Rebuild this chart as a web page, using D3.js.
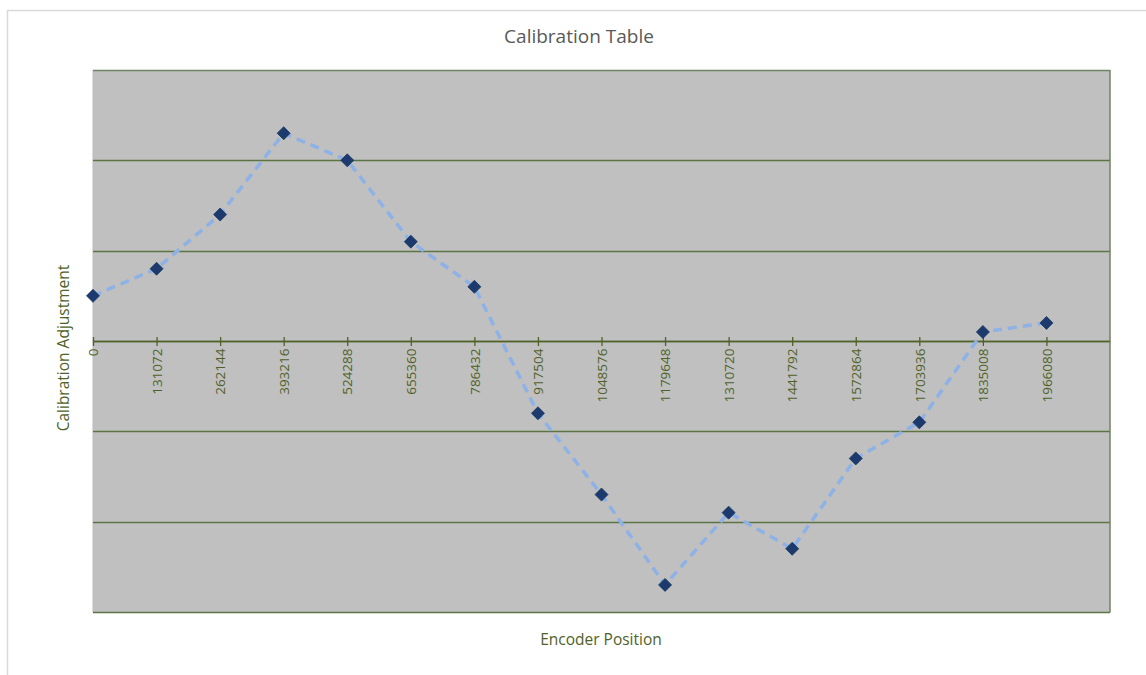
<!DOCTYPE html>
<html>
<head>
<meta charset="utf-8">
<script src="https://cdn.jsdelivr.net/npm/d3@7"></script>
<style>
  html, body { margin: 0; padding: 0; background: #ffffff; }
  svg { display: block; }
</style>
</head>
<body>
<svg id="chart" width="1146" height="675"></svg>
<script>
// Encoder positions (counts) and the calibration adjustment measured at each
const encoderPositions = [0, 131072, 262144, 393216, 524288, 655360, 786432, 917504,
  1048576, 1179648, 1310720, 1441792, 1572864, 1703936, 1835008, 1966080];
const adjustments = [0.5, 0.8, 1.4, 2.3, 2.0, 1.1, 0.6, -0.8,
  -1.7, -2.7, -1.9, -2.3, -1.3, -0.9, 0.1, 0.2];
const tickLabels = encoderPositions.map(String);
const gridValues = [-3, -2, -1, 0, 1, 2, 3];

const chartTitle = "Calibration Table";
const xTitle = "Encoder Position";
const yTitle = "Calibration Adjustment";

const svg = d3.select("#chart");
const plot = { left: 93, right: 1110, top: 70, bottom: 612 };
const olive = "#4f6228";
const gridColor = "#5b7444";
const fontFamily = "'Open Sans', 'Liberation Sans', sans-serif";

// Outer chart frame
svg.append("rect")
  .attr("x", 7.5).attr("y", 10.5)
  .attr("width", 1170).attr("height", 700)
  .attr("fill", "#ffffff")
  .attr("stroke", "#d9d9d9")
  .attr("stroke-width", 1.5);

const x = d3.scaleLinear().domain([0, 2097152]).range([plot.left, plot.right]);
const y = d3.scaleLinear().domain([-3, 3]).range([plot.bottom, plot.top]);

// Plot area background
svg.append("rect")
  .attr("x", plot.left).attr("y", plot.top)
  .attr("width", plot.right - plot.left).attr("height", plot.bottom - plot.top)
  .attr("fill", "#c0c0c0");

// Left edge of plot area
svg.append("line")
  .attr("x1", plot.left - 0.5).attr("x2", plot.left - 0.5)
  .attr("y1", plot.top).attr("y2", plot.bottom)
  .attr("stroke", "#dcdcdc").attr("stroke-width", 1);

// Horizontal gridlines
svg.append("g")
  .selectAll("line")
  .data(gridValues)
  .join("line")
  .attr("x1", plot.left).attr("x2", plot.right)
  .attr("y1", d => Math.round(y(d)) + 0.5)
  .attr("y2", d => Math.round(y(d)) + 0.5)
  .attr("stroke", d => d === 3 ? "#6e8462" : gridColor)
  .attr("stroke-width", 1.3);

// Right edge of plot area
svg.append("line")
  .attr("x1", plot.right).attr("x2", plot.right)
  .attr("y1", plot.top).attr("y2", plot.bottom + 0.5)
  .attr("stroke", "#6e8462").attr("stroke-width", 1.5);

// Category axis crossing at zero
const zeroY = Math.round(y(0)) + 0.5;
const xAxis = d3.axisBottom(x)
  .tickValues(encoderPositions)
  .tickFormat((d, i) => tickLabels[i])
  .tickSizeInner(4.5)
  .tickSizeOuter(0);

const axisG = svg.append("g")
  .attr("transform", `translate(0,${zeroY})`)
  .call(xAxis);

axisG.select(".domain")
  .attr("d", `M${plot.left},0H${plot.right}`)
  .attr("stroke", olive).attr("stroke-width", 1.3);

axisG.selectAll(".tick line")
  .attr("y1", -4.5).attr("y2", 4.5)
  .attr("stroke", olive).attr("stroke-width", 1.3);

axisG.selectAll(".tick text")
  .attr("transform", "rotate(-90)")
  .attr("x", -7).attr("y", 0).attr("dy", "0.35em")
  .attr("text-anchor", "end")
  .attr("fill", olive)
  .style("font-family", fontFamily)
  .style("font-size", "13.5px");

// Series line
const lineGen = d3.line()
  .x((d, i) => x(encoderPositions[i]))
  .y(d => y(d));

svg.append("path")
  .datum(adjustments)
  .attr("d", lineGen)
  .attr("fill", "none")
  .attr("stroke", "#8eb1e6")
  .attr("stroke-width", 3.5)
  .attr("stroke-dasharray", "9,6")
  .attr("stroke-linejoin", "round");

// Diamond markers
const r = 6.5;
svg.append("g")
  .selectAll("path")
  .data(adjustments)
  .join("path")
  .attr("transform", (d, i) => `translate(${x(encoderPositions[i])},${y(d)})`)
  .attr("d", `M0,${-r}L${r},0L0,${r}L${-r},0Z`)
  .attr("fill", "#1c3a6e")
  .attr("stroke", "#17375e")
  .attr("stroke-width", 0.8);

// Titles
svg.append("text")
  .attr("x", 579).attr("y", 43)
  .attr("text-anchor", "middle")
  .attr("fill", "#595959")
  .style("font-family", fontFamily)
  .style("font-size", "19px")
  .text(chartTitle);

svg.append("text")
  .attr("x", 601).attr("y", 645)
  .attr("text-anchor", "middle")
  .attr("fill", olive)
  .style("font-family", fontFamily)
  .style("font-size", "15.5px")
  .text(xTitle);

svg.append("text")
  .attr("transform", "translate(69,348) rotate(-90)")
  .attr("text-anchor", "middle")
  .attr("fill", olive)
  .style("font-family", fontFamily)
  .style("font-size", "15.5px")
  .text(yTitle);
</script>
</body>
</html>
